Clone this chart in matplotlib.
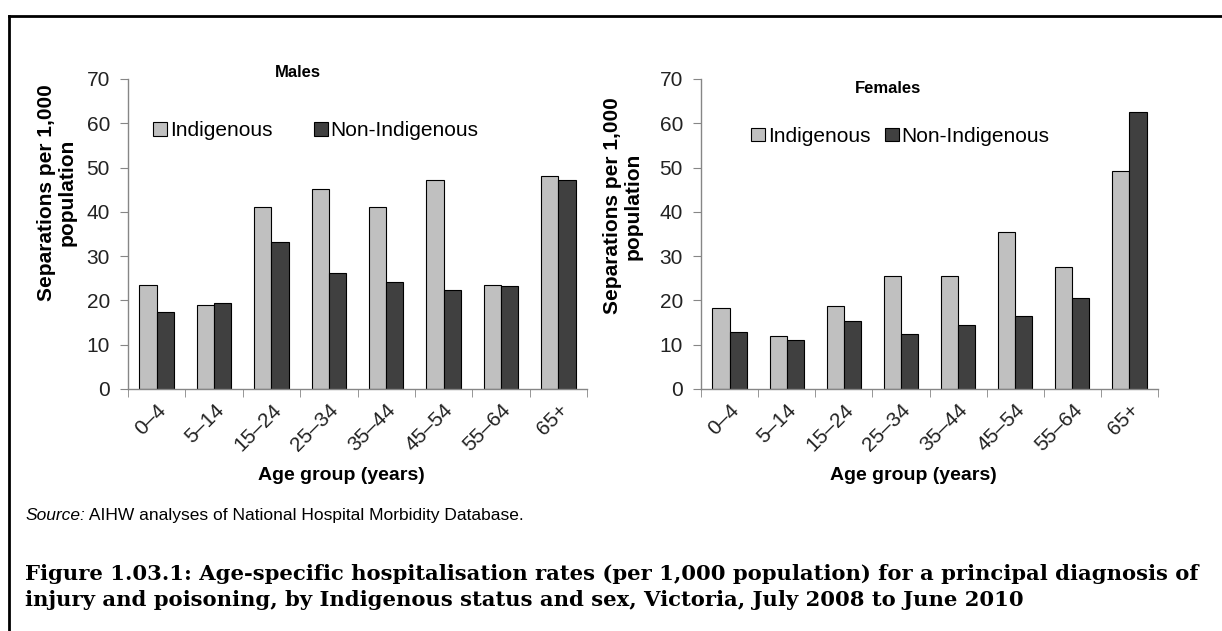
import matplotlib
matplotlib.use('Agg')
import matplotlib.pyplot as plt
from matplotlib.lines import Line2D
import numpy as np

# age groups and rates (separations per 1,000 population)
ages = ['0–4', '5–14', '15–24', '25–34', '35–44', '45–54', '55–64', '65+']
male_indig = [23.5, 18.9, 41.2, 45.2, 41.2, 47.2, 23.5, 48.1]
male_nonindig = [17.4, 19.4, 33.3, 26.1, 24.1, 22.3, 23.2, 47.2]
female_indig = [18.2, 11.9, 18.7, 25.6, 25.6, 35.5, 27.6, 49.2]
female_nonindig = [12.8, 11.1, 15.4, 12.5, 14.5, 16.5, 20.5, 62.6]

caption1 = ('Figure 1.03.1: Age-specific hospitalisation rates (per 1,000 population) '
            'for a principal diagnosis of')
caption2 = 'injury and poisoning, by Indigenous status and sex, Victoria, July 2008 to June 2010'

light = '#c0c0c0'
dark = '#404040'
spine = '#868686'

plt.rcParams['font.family'] = ['Liberation Sans', 'DejaVu Sans']

fig = plt.figure(figsize=(12.22, 6.31), dpi=100)

W, H = 1222, 631


def box(x0, x1, ytop, ybot):
    return [x0 / W, 1 - ybot / H, (x1 - x0) / W, (ybot - ytop) / H]


def panel(ax, indig, nonindig, title, title_xy, leg_xy, colspace, ylab_xy):
    x = np.arange(len(ages))
    bw = 0.3
    ax.bar(x + 0.5 - bw / 2, indig, bw, color=light, edgecolor='black', linewidth=0.8,
           label='Indigenous')
    ax.bar(x + 0.5 + bw / 2, nonindig, bw, color=dark, edgecolor='black', linewidth=0.8,
           label='Non-Indigenous')
    ax.set_xlim(0, len(ages))
    ax.set_ylim(0, 70)
    ax.set_yticks(range(0, 71, 10))
    ax.set_xticks(x + 0.5)
    ax.set_xticks(np.arange(len(ages) + 1), minor=True)
    ax.set_xticklabels(ages, rotation=45, ha='right', va='top', rotation_mode='anchor')
    ax.tick_params(axis='x', which='major', length=0, labelsize=15, pad=8, colors='#222222')
    ax.tick_params(axis='x', which='minor', length=6, color=spine, direction='out')
    ax.tick_params(axis='y', length=6, color=spine, labelsize=15, labelcolor='#222222', pad=7)
    for s in ['top', 'right']:
        ax.spines[s].set_visible(False)
    for s in ['left', 'bottom']:
        ax.spines[s].set_color(spine)
        ax.spines[s].set_linewidth(1)
    ax.set_ylabel('Separations per 1,000\npopulation', fontsize=15, fontweight='bold',
                  linespacing=1.1)
    ax.yaxis.set_label_coords(*ylab_xy)
    ax.set_xlabel('Age group (years)', fontsize=14, fontweight='bold')
    ax.xaxis.set_label_coords(0.465, -0.25)
    ax.text(title_xy[0], title_xy[1], title, transform=ax.transAxes, ha='center', va='center',
            fontsize=12, fontweight='bold')
    ax.legend(loc='center left', bbox_to_anchor=leg_xy, ncol=2, frameon=False,
              fontsize=15, handlelength=0.65, handleheight=0.65, handletextpad=0.15,
              columnspacing=colspace, borderaxespad=0, borderpad=0)


ax1 = fig.add_axes(box(128, 587, 79, 389))
panel(ax1, male_indig, male_nonindig, 'Males', (0.37, 1.022), (0.055, 0.833), 2.0,
      (-0.112, 0.635))

ax2 = fig.add_axes(box(701, 1158, 79, 389))
panel(ax2, female_indig, female_nonindig, 'Females', (0.41, 0.968), (0.11, 0.815), 0.7,
      (-0.128, 0.59))

# source note
src = fig.text(25 / W, 1 - 520 / H, 'Source:', fontsize=12.5, style='italic', va='baseline')
plt.annotate(' AIHW analyses of National Hospital Morbidity Database.', xy=(1, 0),
             xycoords=src, fontsize=12.5, va='bottom', ha='left', annotation_clip=False)

# caption, sized to span the page width
cap1 = fig.text(25 / W, 1 - 580 / H, caption1, fontsize=17, fontweight='bold',
                family='DejaVu Serif', va='baseline')
cap2 = fig.text(25 / W, 1 - 606 / H, caption2, fontsize=17, fontweight='bold',
                family='DejaVu Serif', va='baseline')
r = fig.canvas.get_renderer()
wpx = cap1.get_window_extent(r).width
size = 17 * (1173 / wpx)
cap1.set_fontsize(size)
cap2.set_fontsize(size)

# frame around the figure (top and left edges visible)
fig.add_artist(Line2D([9 / W, 1], [1 - 16 / H, 1 - 16 / H], color='black', linewidth=2,
                      transform=fig.transFigure))
fig.add_artist(Line2D([9 / W, 9 / W], [1 - 16 / H, 0], color='black', linewidth=2,
                      transform=fig.transFigure))

fig.savefig('out.png', dpi=100)
